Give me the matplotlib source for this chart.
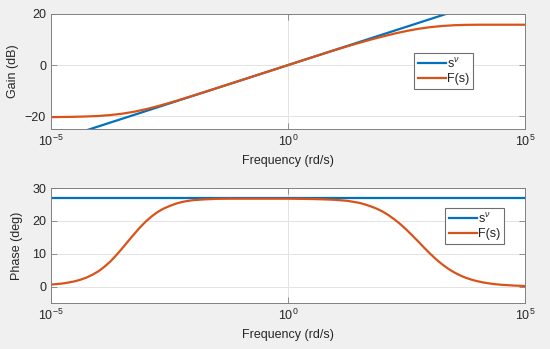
import numpy as np
import matplotlib
matplotlib.use("Agg")
import matplotlib.pyplot as plt

plt.rcParams['font.family'] = ['Liberation Sans', 'DejaVu Sans']
plt.rcParams['mathtext.fontset'] = 'custom'
plt.rcParams['mathtext.rm'] = 'Liberation Sans'
plt.rcParams['mathtext.it'] = 'Liberation Sans:italic'

# Gain readings: frequencies (rad/s) at quarter decades
freq_gain = 10.0 ** np.arange(-5, 5.01, 0.25)

# F(s) gain (dB)
gain_F = [-20.35, -20.3, -20.22, -20.1, -19.9, -19.55, -19.02, -18.26, -17.27,
          -16.09, -14.78, -13.38, -11.94, -10.47, -8.99, -7.49, -6.0, -4.5, -3.0,
          -1.5, 0.0, 1.5, 2.99, 4.47, 5.93, 7.35, 8.7, 10.0, 11.2, 12.35, 13.35,
          14.2, 14.85, 15.3, 15.6, 15.75, 15.8, 15.8, 15.8, 15.8, 15.8]

# Phase readings: exponents of frequency (denser where the curve bends)
phase_exp = [-5, -4.75, -4.625, -4.5, -4.375, -4.25, -4.125, -4, -3.875, -3.75,
             -3.625, -3.5, -3.375, -3.25, -3.125, -3, -2.875, -2.75, -2.625, -2.5,
             -2.375, -2.25, -2.125, -2, -1.75, -1.5, -1.25, -1, -0.75, -0.5, -0.25,
             0, 0.25, 0.5, 0.75, 1, 1.25, 1.5, 1.625, 1.75, 1.875, 2, 2.125, 2.25,
             2.375, 2.5, 2.625, 2.75, 2.875, 3, 3.125, 3.25, 3.375, 3.5, 3.625,
             3.75, 3.875, 4, 4.125, 4.25, 4.375, 4.5, 4.75, 5]
freq_phase = 10.0 ** np.array(phase_exp)

# F(s) phase (deg)
phase_F = [0.6, 0.95, 1.25, 1.6, 2.1, 2.75, 3.6, 4.65, 6.0, 7.6,
           9.5, 11.6, 13.76, 15.9, 17.96, 19.8, 21.38, 22.7, 23.73, 24.5,
           25.19, 25.7, 26.05, 26.3, 26.55, 26.7, 26.75, 26.75, 26.75, 26.75, 26.75,
           26.75, 26.7, 26.65, 26.55, 26.4, 26.1, 25.5, 25.0, 24.4, 23.7, 22.8, 21.7, 20.4,
           18.95, 17.3, 15.5, 13.7, 11.8, 10.0, 8.3, 6.8, 5.49, 4.37, 3.44,
           2.69, 2.09, 1.62, 1.24, 0.95, 0.73, 0.55, 0.32, 0.18]

# s^nu (nu = 0.3): straight line in dB, constant phase
freq_ideal = [1e-5, 1e5]
gain_ideal = [-30.0, 30.0]
phase_ideal = [27.0, 27.0]

blue = '#0072BD'
orange = '#D95319'
txt = '#262626'
axc = '#808080'

fig = plt.figure(figsize=(5.5, 3.49), dpi=100, facecolor='#f0f0f0')
ax1 = fig.add_axes([0.0927, 0.6304, 0.8618, 0.3295])
ax2 = fig.add_axes([0.0927, 0.1318, 0.8618, 0.3295])

ax1.semilogx(freq_ideal, gain_ideal, color=blue, lw=1.6, label=r'$\mathregular{s}^{\nu}$')
ax1.semilogx(freq_gain, gain_F, color=orange, lw=1.6, label='F(s)')
ax1.set_ylim(-25, 20)
ax1.set_yticks([-20, 0, 20])
ax1.set_ylabel('Gain (dB)', color=txt, fontsize=9)
ax1.yaxis.set_label_coords(-0.0675, 0.5)

ax2.semilogx(freq_ideal, phase_ideal, color=blue, lw=1.6, label=r'$\mathregular{s}^{\nu}$')
ax2.semilogx(freq_phase, phase_F, color=orange, lw=1.6, label='F(s)')
ax2.set_ylim(-5, 30)
ax2.set_yticks([0, 10, 20, 30])
ax2.set_ylabel('Phase (deg)', color=txt, fontsize=9)
ax2.yaxis.set_label_coords(-0.059, 0.5)

for ax in (ax1, ax2):
    ax.set_xlim(1e-5, 1e5)
    ax.set_xticks([1e-5, 1e0, 1e5])
    ax.set_xticklabels([r'$\mathregular{10^{-5}}$', r'$\mathregular{10^{0}}$', r'$\mathregular{10^{5}}$'])
    ax.xaxis.set_minor_locator(matplotlib.ticker.NullLocator())
    ax.set_xlabel('Frequency (rd/s)', color=txt, fontsize=9)
    ax.grid(True, color='#e3e3e3', lw=0.7)
    ax.set_axisbelow(True)
    ax.tick_params(direction='in', colors=txt, labelsize=9, length=4, width=0.6,
                   top=True, right=True, color=axc)
    for s in ax.spines.values():
        s.set_color(axc)
        s.set_linewidth(0.7)
    ax.set_facecolor('white')

leg_kw = dict(loc='upper left', fontsize=9, handlelength=2.25, handletextpad=0.08,
              borderpad=0.3, borderaxespad=0.0, labelspacing=0.2, fancybox=False,
              framealpha=1, edgecolor='#6e6e6e')
leg1 = ax1.legend(bbox_to_anchor=(0.766, 0.661), **leg_kw)
leg2 = ax2.legend(bbox_to_anchor=(0.831, 0.826), **leg_kw)
for leg in (leg1, leg2):
    leg.get_frame().set_linewidth(0.8)
    for t in leg.get_texts():
        t.set_color(txt)

fig.savefig('out.png', dpi=100, facecolor=fig.get_facecolor())
